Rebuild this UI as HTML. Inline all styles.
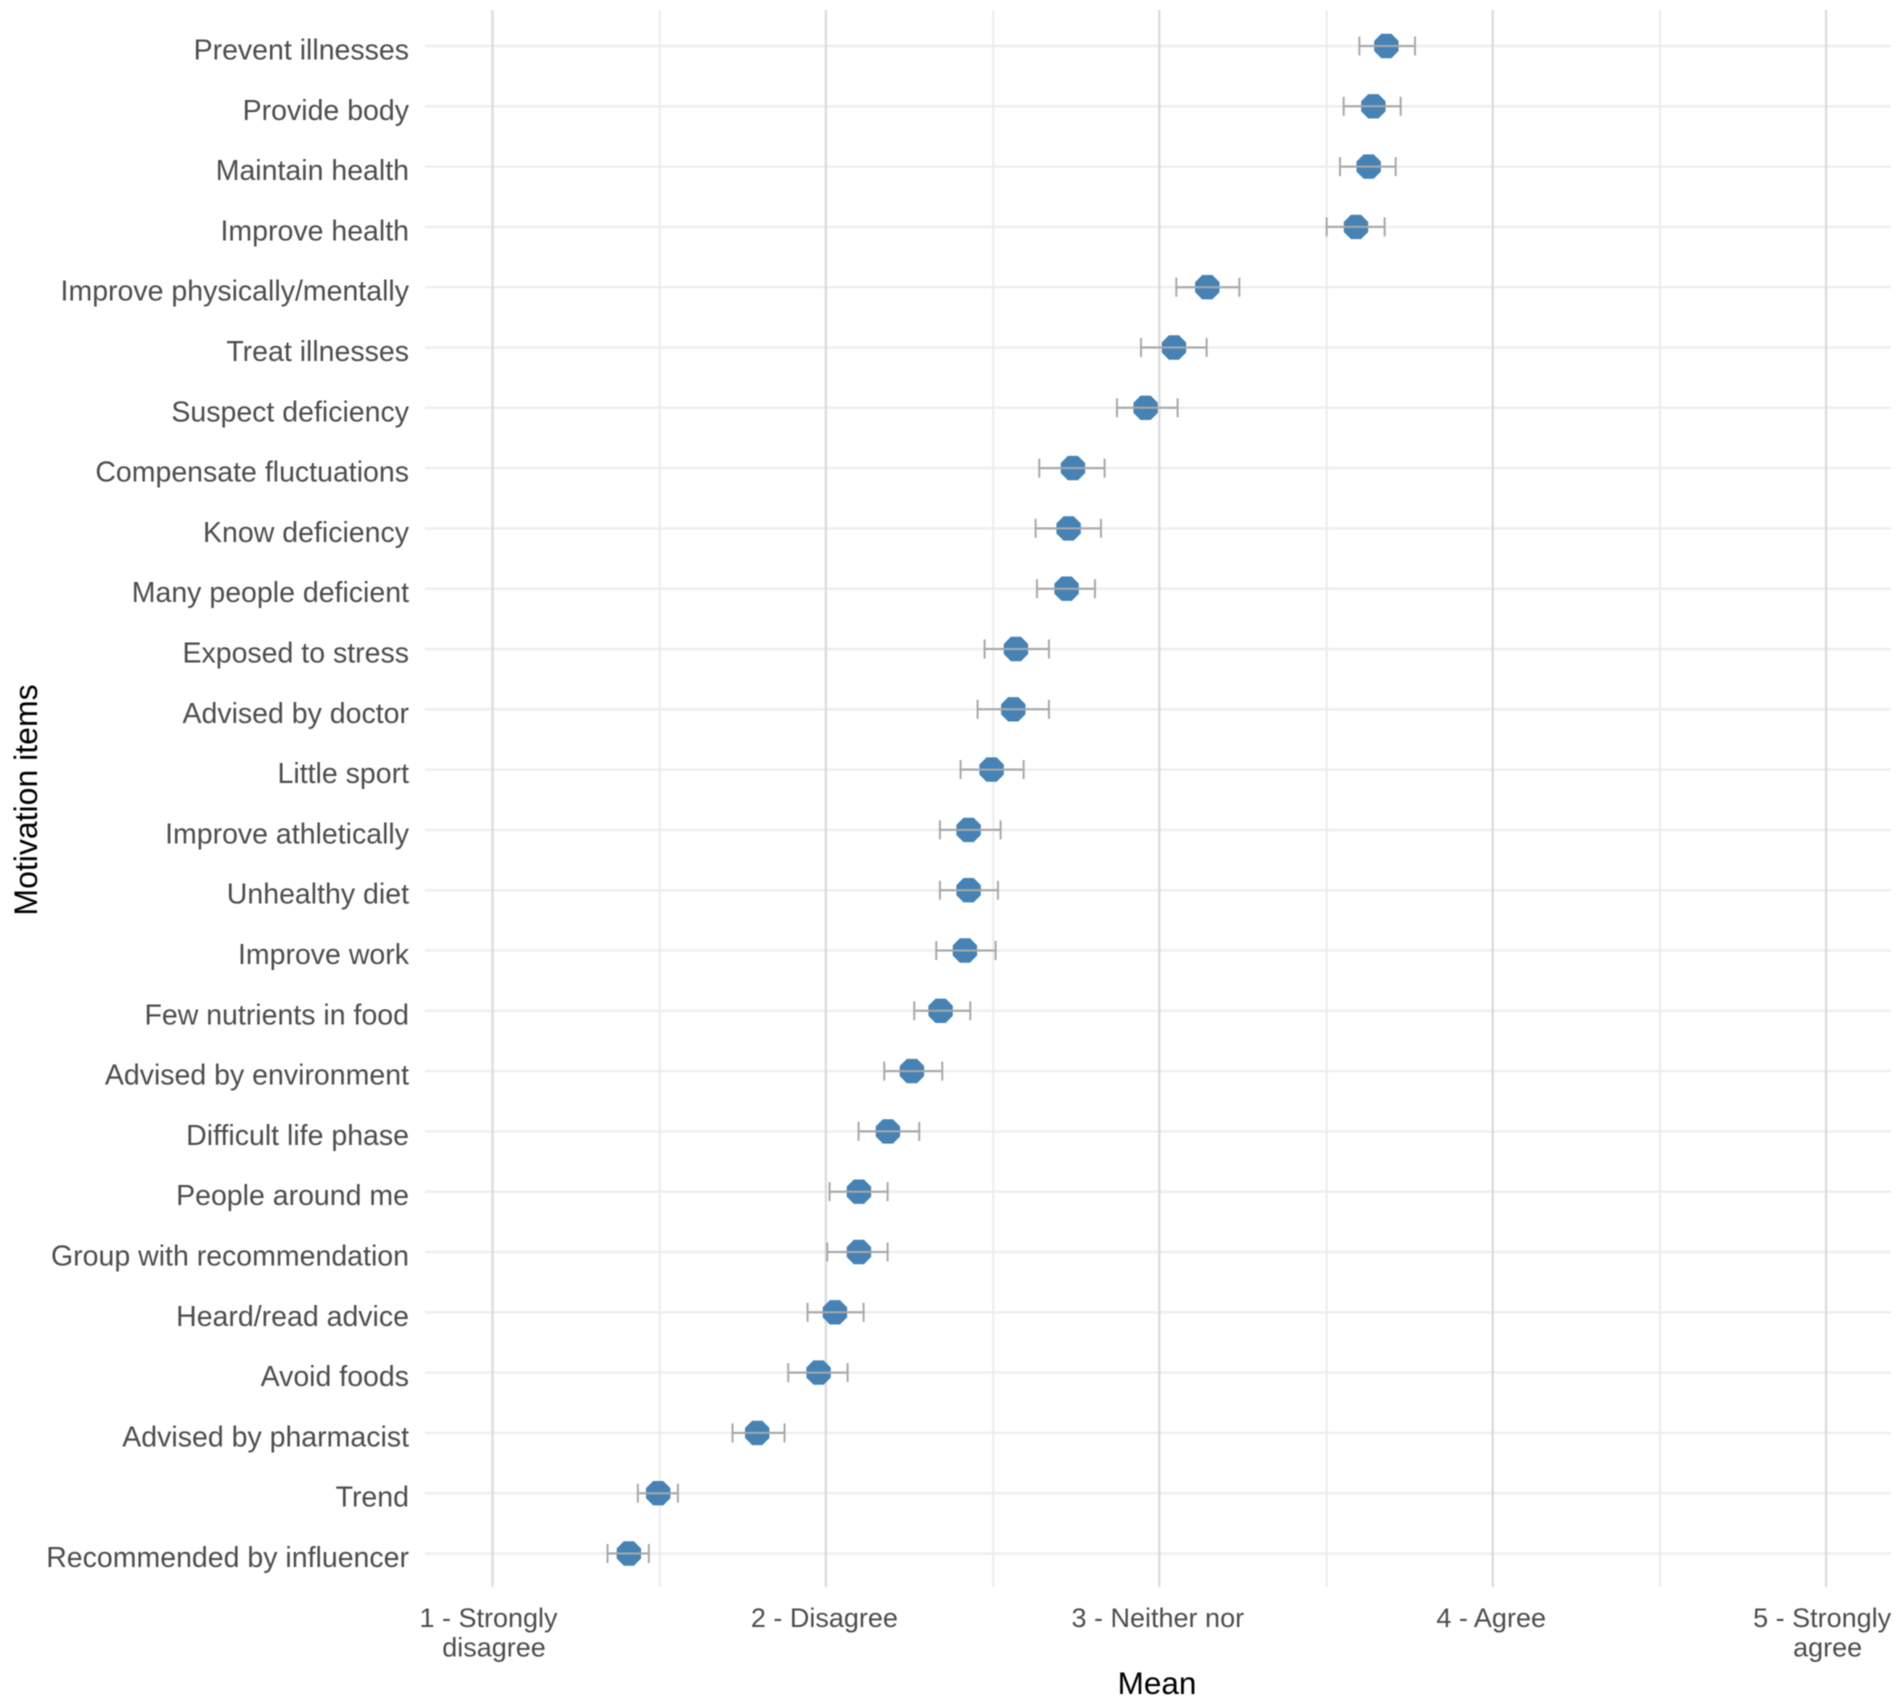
<!DOCTYPE html>
<html lang="en">
<head>
<meta charset="utf-8">
<title>Motivation items dot plot</title>
<style>
html,body{margin:0;padding:0;background:#fff;width:1901px;height:1704px;overflow:hidden}
svg{display:block;font-family:"Liberation Sans",Arial,sans-serif}
.blur{filter:blur(0.6px)}
</style>
</head>
<body>
<svg id="chart" width="1901" height="1704" viewBox="0 0 1901 1704" xmlns="http://www.w3.org/2000/svg">
  <rect width="1901" height="1704" fill="#ffffff"/>
  <g id="grid" class="blur"></g>
  <g id="marks" class="blur"></g>
  <g id="labels" class="blur"></g>
  <text class="blur" x="1157" y="1694" text-anchor="middle" font-size="31.5" fill="#000">Mean</text>
  <text class="blur" transform="translate(37,800) rotate(-90)" text-anchor="middle" font-size="32" fill="#000">Motivation items</text>
</svg>
<script>
const categories = ["Prevent illnesses","Provide body","Maintain health","Improve health","Improve physically/mentally","Treat illnesses","Suspect deficiency","Compensate fluctuations","Know deficiency","Many people deficient","Exposed to stress","Advised by doctor","Little sport","Improve athletically","Unhealthy diet","Improve work","Few nutrients in food","Advised by environment","Difficult life phase","People around me","Group with recommendation","Heard/read advice","Avoid foods","Advised by pharmacist","Trend","Recommended by influencer"];
const means = [3.681,3.642,3.628,3.59,3.144,3.044,2.959,2.741,2.728,2.722,2.570,2.562,2.497,2.428,2.428,2.417,2.344,2.258,2.186,2.099,2.099,2.027,1.978,1.794,1.497,1.409];
const lows = [3.600,3.553,3.542,3.502,3.051,2.945,2.873,2.640,2.629,2.633,2.476,2.455,2.404,2.342,2.342,2.331,2.265,2.175,2.098,2.011,2.004,1.945,1.887,1.720,1.436,1.345];
const highs = [3.767,3.724,3.709,3.676,3.240,3.142,3.055,2.836,2.825,2.807,2.669,2.669,2.593,2.524,2.516,2.509,2.433,2.349,2.280,2.185,2.185,2.113,2.065,1.876,1.556,1.469];
const majorTicks = [1,2,3,4,5];
const minorTicks = [1.5,2.5,3.5,4.5];
const tickLabels = [["1 - Strongly","disagree"],["2 - Disagree"],["3 - Neither nor"],["4 - Agree"],["5 - Strongly","agree"]];

const NS = "http://www.w3.org/2000/svg";
function xScale(v){ return 492.5 + (v - 1) * 333.4; }
function yScale(i){ return 46 + i * (1507.5 / (categories.length - 1)); }
function make(tag, attrs, parent){
  const el = document.createElementNS(NS, tag);
  for (const k in attrs) el.setAttribute(k, attrs[k]);
  parent.appendChild(el);
  return el;
}
const grid = document.getElementById("grid");
const marks = document.getElementById("marks");
const labels = document.getElementById("labels");
const plotTop = 10, plotBottom = 1587, plotLeft = 425, plotRight = 1891;

categories.forEach(function(c, i){
  const line = make("line", {x1:plotLeft, x2:plotRight, y1:yScale(i), y2:yScale(i), stroke:"#eeeeee", "stroke-width":2.4}, grid);
  
  
});
minorTicks.forEach(function(t){
  const line = make("line", {x1:xScale(t) + 0.6, x2:xScale(t) + 0.6, y1:plotTop, y2:plotBottom, stroke:"#ededed", "stroke-width":2.2}, grid);
  
  
});
majorTicks.forEach(function(t, k){
  const line = make("line", {x1:xScale(t), x2:xScale(t), y1:plotTop, y2:plotBottom, stroke:"#dcdcdc", "stroke-width":2.4}, grid);
  
  
  tickLabels[k].forEach(function(str, n){
    const multi = tickLabels[k].length > 1;
    const dx = multi ? (n === 0 ? -4 : 1.5) : -1.5;
    const tx = make("text", {x:xScale(t) + dx, y:1627 + n * 29.5, "text-anchor":"middle", "font-size":27, fill:"#4d4d4d"}, labels);
    
    
    tx.textContent = str;
  });
});
categories.forEach(function(c, i){
  const y = yScale(i);
  const label = make("text", {x:409, y:y + 13.5, "text-anchor":"end", "font-size":28.5, fill:"#4d4d4d"}, labels);
  
  
  label.textContent = c;

  const cx = xScale(means[i]);
  const r = 13.2;
  const pts = [];
  for (let a = 0; a < 8; a++) {
    const ang = Math.PI / 8 + a * Math.PI / 4;
    pts.push((cx + r * Math.cos(ang)).toFixed(2) + "," + (y + r * Math.sin(ang)).toFixed(2));
  }
  const point = make("polygon", {points:pts.join(" "), fill:"#4682b4"}, marks);
  
  

  const xl = xScale(lows[i]), xh = xScale(highs[i]);
  const bar = make("line", {x1:xl, x2:xh, y1:y, y2:y, stroke:"#a8a8a8", "stroke-width":2}, marks);
  
  
  const capL = make("line", {x1:xl, x2:xl, y1:y - 9.5, y2:y + 9.5, stroke:"#a8a8a8", "stroke-width":2}, marks);
  
  
  const capH = make("line", {x1:xh, x2:xh, y1:y - 9.5, y2:y + 9.5, stroke:"#a8a8a8", "stroke-width":2}, marks);
  
  
});
</script>
</body>
</html>
